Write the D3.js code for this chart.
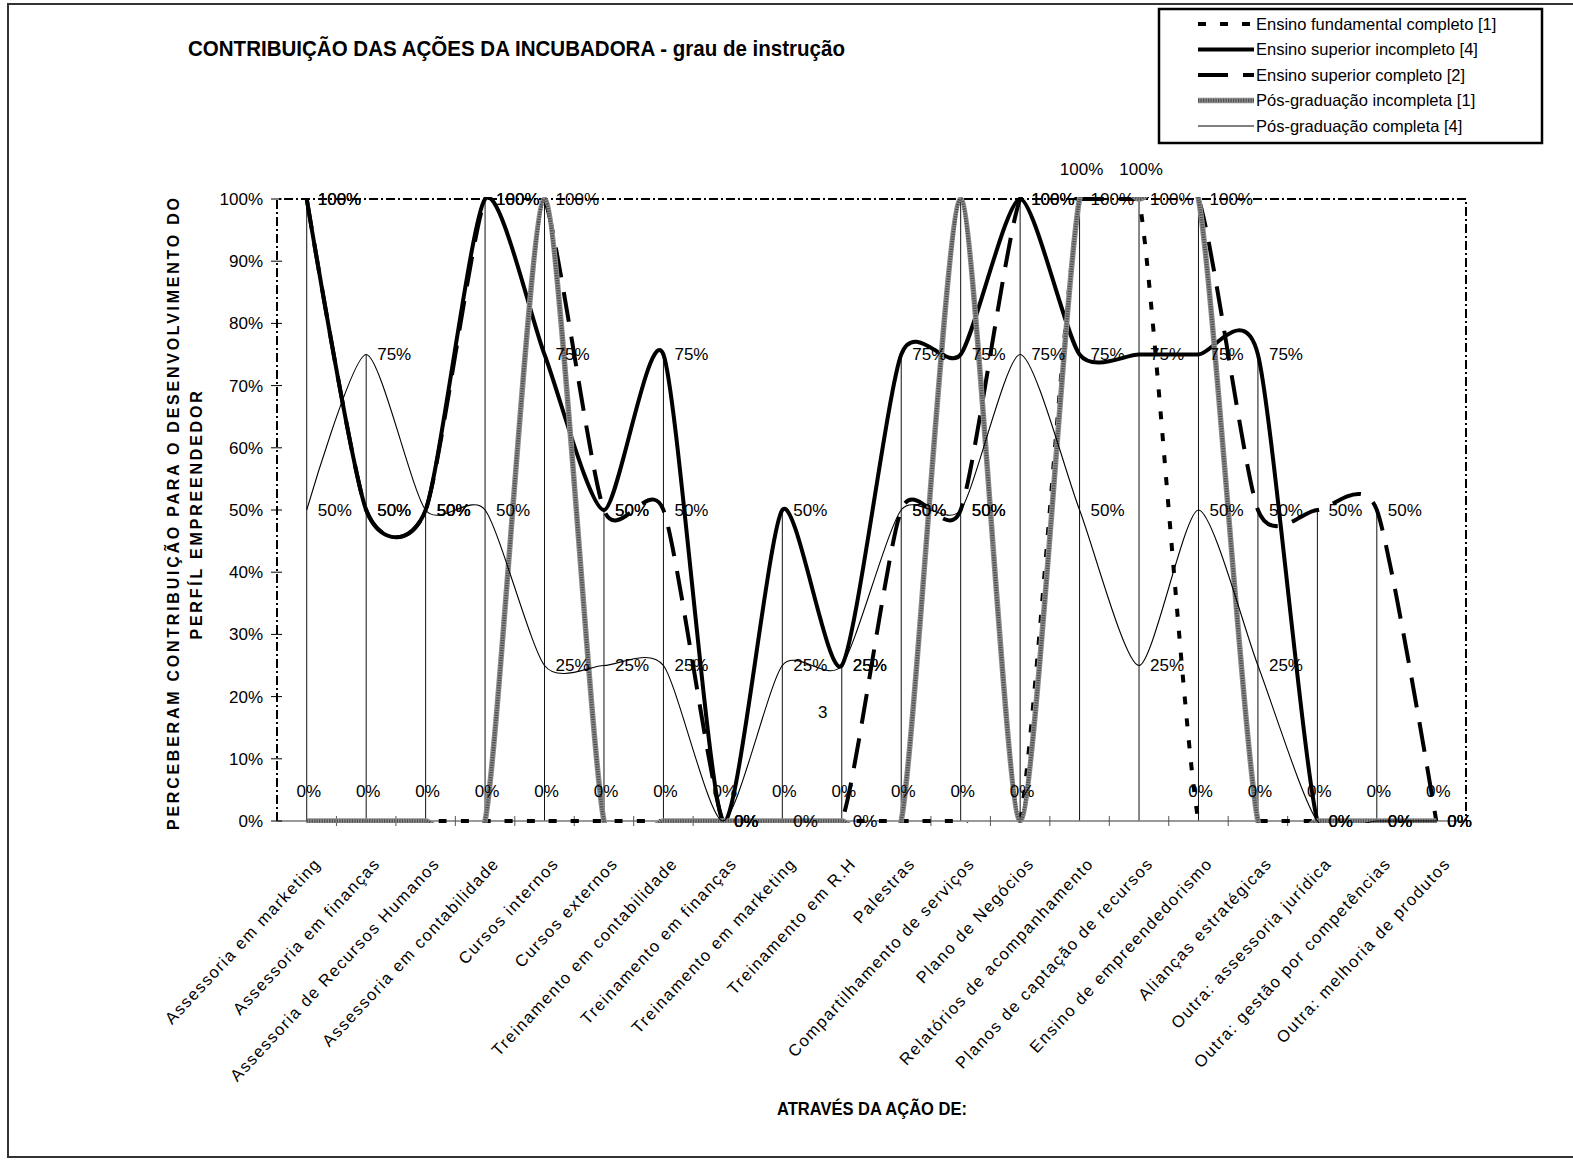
<!DOCTYPE html>
<html>
<head>
<meta charset="utf-8">
<script src="https://cdn.jsdelivr.net/npm/d3@7"></script>
<style>
  body { margin: 0; background: #fff; }
  text { font-family: "Liberation Sans", Arial, sans-serif; fill: #000; }
</style>
</head>
<body>
<div id="chart"></div>
<script>
// categories (x axis)
var categories = [
  "Assessoria em marketing", "Assessoria em finanças", "Assessoria de Recursos Humanos",
  "Assessoria em contabilidade", "Cursos internos", "Cursos externos",
  "Treinamento em contabilidade", "Treinamento em finanças", "Treinamento em marketing",
  "Treinamento em R.H", "Palestras", "Compartilhamento de serviços", "Plano de Negócios",
  "Relatórios de acompanhamento", "Planos de captação de recursos", "Ensino de empreendedorismo",
  "Alianças estratégicas", "Outra: assessoria jurídica", "Outra: gestão por competências",
  "Outra: melhoria de produtos"
];

// share of respondents per group
var fundamentalCompleto = [0, 0, 0, 0, 0, 0, 0, 0, 0, 0, 0, 0, 0, 1, 1, 0, 0, 0, 0, 0];
var superiorIncompleto  = [1, 0.5, 0.5, 1, 0.75, 0.5, 0.75, 0, 0.5, 0.25, 0.75, 0.75, 1, 0.75, 0.75, 0.75, 0.75, 0, 0, 0];
var superiorCompleto    = [1, 0.5, 0.5, 1, 1, 0.5, 0.5, 0, 0, 0, 0.5, 0.5, 1, 1, 1, 1, 0.5, 0.5, 0.5, 0];
var posIncompleta       = [0, 0, 0, 0, 1, 0, 0, 0, 0, 0, 0, 1, 0, 1, 1, 1, 0, 0, 0, 0];
var posCompleta         = [0.5, 0.75, 0.5, 0.5, 0.25, 0.25, 0.25, 0, 0.25, 0.25, 0.5, 0.5, 0.75, 0.5, 0.25, 0.5, 0.25, 0, 0, 0];

var seriesNames = [
  "Ensino fundamental completo [1]", "Ensino superior incompleto [4]",
  "Ensino superior completo [2]", "Pós-graduação incompleta [1]", "Pós-graduação completa [4]"
];
var yTicks = [0, 0.1, 0.2, 0.3, 0.4, 0.5, 0.6, 0.7, 0.8, 0.9, 1];

var series = [
  { name: seriesNames[0], values: fundamentalCompleto, width: 4, dash: "8,14", label: "above" },
  { name: seriesNames[1], values: superiorIncompleto, width: 4, dash: null, label: "right" },
  { name: seriesNames[2], values: superiorCompleto, width: 4, dash: "30,15", label: "right" },
  { name: seriesNames[3], values: posIncompleta, width: 5.5, dash: null, label: "none", gray: true },
  { name: seriesNames[4], values: posCompleta, width: 1.1, dash: null, label: "right" }
];

var W = 1573, H = 1160;
var plot = { left: 277, right: 1466, top: 199, bottom: 821 };

var svg = d3.select("#chart").append("svg")
    .attr("width", W).attr("height", H);

svg.append("rect").attr("width", W).attr("height", H).attr("fill", "#fff");

// outer frame (right edge is cut off in the original)
svg.append("path")
    .attr("d", "M1600,4 H8 V1157 H1600")
    .attr("fill", "none").attr("stroke", "#333").attr("stroke-width", 2);

var x = d3.scalePoint().domain(d3.range(categories.length))
    .range([plot.left, plot.right]).padding(0.5);
var y = d3.scaleLinear().domain([0, 1]).range([plot.bottom, plot.top]);
var step = x.step();

// title
svg.append("text")
    .attr("x", 188).attr("y", 56)
    .attr("font-size", 22.5).attr("font-weight", "bold")
    .attr("textLength", 657).attr("lengthAdjust", "spacingAndGlyphs")
    .text("CONTRIBUIÇÃO DAS AÇÕES DA INCUBADORA - grau de instrução");

// plot area border (dash-dot)
var dashDot = "9,3,2,3";
svg.append("path")
    .attr("d", "M" + plot.left + "," + plot.bottom + " V" + plot.top + " H" + plot.right + " V" + plot.bottom)
    .attr("fill", "none").attr("stroke", "#000").attr("stroke-width", 2)
    .attr("stroke-dasharray", dashDot);

// drop lines from the highest value of each category
var maxes = categories.map(function(c, i) {
  return d3.max(series, function(s) { return s.values[i]; });
});
svg.append("g").selectAll("line")
    .data(maxes)
    .enter().append("line")
    .attr("x1", function(d, i) { return x(i); })
    .attr("x2", function(d, i) { return x(i); })
    .attr("y1", function(d) { return y(d); })
    .attr("y2", y(0))
    .attr("stroke", "#111").attr("stroke-width", 1);

// x axis line and cross ticks at category boundaries
svg.append("line")
    .attr("x1", plot.left).attr("x2", plot.right)
    .attr("y1", y(0)).attr("y2", y(0))
    .attr("stroke", "#777").attr("stroke-width", 1.5);
svg.append("g").selectAll("line")
    .data(d3.range(1, categories.length))
    .enter().append("line")
    .attr("x1", function(d) { return plot.left + d * step; })
    .attr("x2", function(d) { return plot.left + d * step; })
    .attr("y1", y(0) - 5).attr("y2", y(0) + 5)
    .attr("stroke", "#555").attr("stroke-width", 1);

// y axis ticks and labels
var yAxis = svg.append("g");
yAxis.selectAll("line")
    .data(yTicks)
    .enter().append("line")
    .attr("x1", plot.left - 6).attr("x2", plot.left + 5)
    .attr("y1", function(d) { return y(d); })
    .attr("y2", function(d) { return y(d); })
    .attr("stroke", "#000").attr("stroke-width", 1);
yAxis.selectAll("text")
    .data(yTicks)
    .enter().append("text")
    .attr("x", 263)
    .attr("y", function(d) { return y(d); })
    .attr("dy", "0.35em")
    .attr("text-anchor", "end")
    .attr("font-size", 17)
    .text(d3.format(".0%"));

// category labels, rotated
svg.append("g").selectAll("text")
    .data(categories)
    .enter().append("text")
    .attr("transform", function(d, i) { return "translate(" + (x(i) + 6) + ",856) rotate(-47)"; })
    .attr("dy", "0.75em")
    .attr("text-anchor", "end")
    .attr("font-size", 16.5)
    .attr("letter-spacing", 1.5)
    .text(function(d) { return d; });

// axis titles
var yTitle = svg.append("text")
    .attr("transform", "translate(179,514) rotate(-90)")
    .attr("text-anchor", "middle")
    .attr("font-size", 16).attr("font-weight", "bold");
yTitle.append("tspan").attr("x", 0).attr("y", 0)
    .attr("textLength", 632).attr("lengthAdjust", "spacing")
    .text("PERCEBERAM CONTRIBUIÇÃO PARA O DESENVOLVIMENTO DO");
yTitle.append("tspan").attr("x", 0).attr("y", 23)
    .attr("letter-spacing", 2.8)
    .text("PERFÍL EMPREENDEDOR");

svg.append("text")
    .attr("x", 777).attr("y", 1115)
    .attr("font-size", 17.5).attr("font-weight", "bold")
    .attr("textLength", 190).attr("lengthAdjust", "spacingAndGlyphs")
    .text("ATRAVÉS DA AÇÃO DE:");

// series lines, smoothed and clipped to the plot area
svg.append("clipPath").attr("id", "plotClip")
  .append("rect")
    .attr("x", plot.left).attr("y", plot.top - 2)
    .attr("width", plot.right - plot.left).attr("height", plot.bottom - plot.top + 4);

var line = d3.line()
    .x(function(d, i) { return x(i); })
    .y(function(d) { return y(d); })
    .curve(d3.curveCardinal.tension(0.3));

var lines = svg.append("g").attr("clip-path", "url(#plotClip)");

function drawStroke(g, s, d) {
  if (s.gray) {
    g.append("path").attr("d", d).attr("fill", "none")
        .attr("stroke", "#8e8e8e").attr("stroke-width", s.width);
    g.append("path").attr("d", d).attr("fill", "none")
        .attr("stroke", "#4d4d4d").attr("stroke-width", s.width - 2)
        .attr("stroke-dasharray", "1.2,1.3");
  } else {
    g.append("path").attr("d", d).attr("fill", "none")
        .attr("stroke", "#000").attr("stroke-width", s.width)
        .attr("stroke-dasharray", s.dash);
  }
}

series.forEach(function(s) {
  drawStroke(lines, s, line(s.values));
});

// data labels
var pct = d3.format(".0%");
var labels = svg.append("g");
series.forEach(function(s) {
  if (s.label === "none") return;
  labels.selectAll(null)
      .data(s.values)
      .enter().append("text")
      .attr("x", function(d, i) { return s.label === "above" ? x(i) + 2 : x(i) + 11; })
      .attr("y", function(d) { return s.label === "above" ? y(d) - 30 : y(d); })
      .attr("dy", "0.35em")
      .attr("text-anchor", s.label === "above" ? "middle" : "start")
      .attr("font-size", 17)
      .text(pct);
});

// stray label left in the original chart
svg.append("text")
    .attr("x", x(9) - 19).attr("y", y(0.175))
    .attr("dy", "0.35em").attr("text-anchor", "middle")
    .attr("font-size", 17)
    .text("3");

// legend
var legend = svg.append("g");
legend.append("rect")
    .attr("x", 1159).attr("y", 9).attr("width", 383).attr("height", 134)
    .attr("fill", "#fff").attr("stroke", "#000").attr("stroke-width", 2.5);
series.forEach(function(s, i) {
  var ly = 24 + i * 25.5;
  drawStroke(legend, s, "M1198," + ly + " H1254");
  legend.append("text")
      .attr("x", 1256).attr("y", ly)
      .attr("dy", "0.35em")
      .attr("font-size", 16.5)
      .text(s.name);
});
</script>
</body>
</html>
